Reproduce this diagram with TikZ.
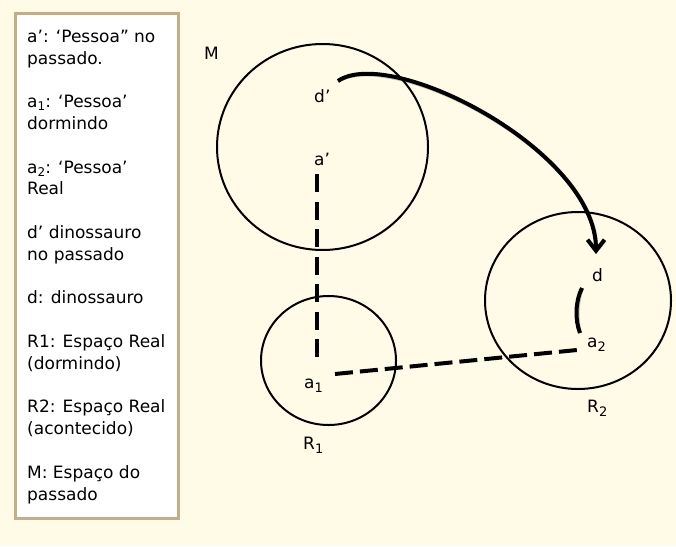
\documentclass[tikz,border=0pt]{standalone}
\usepackage{fontspec}
\setmainfont{DejaVu Sans}
\usetikzlibrary{shapes.geometric,arrows.meta}
\definecolor{bgcol}{RGB}{255,251,231}
\definecolor{boxline}{RGB}{196,174,136}
\newcommand\lgsub[1]{\raisebox{-3pt}{\fontsize{12}{12}\selectfont #1}}
\newcommand\lbsub[1]{\raisebox{-4.5pt}{\fontsize{13}{13}\selectfont #1}}
\tikzset{
  region/.style={draw=black, line width=2pt, ellipse, inner sep=0pt, outer sep=0pt},
  lbl/.style={anchor=base west, inner sep=0pt, font=\fontsize{17}{20}\selectfont},
  dashline/.style={line width=4pt},
  bigarrow/.style={line width=4pt, -{Straight Barb[length=11pt,width=17pt]}},
  shadowline/.style={line width=4pt, black, opacity=0.22}
}
\begin{document}
\begin{tikzpicture}[x=1pt,y=-1pt]
\fill[bgcol] (0,0) rectangle (676,546);
\useasboundingbox (0,0) rectangle (676,546);
% legend box
\draw[boxline, line width=3pt, fill=white] (15,13) rectangle (178,518);
\node[anchor=base west, inner sep=0pt, align=left,
      font=\fontsize{17}{21.8}\selectfont] (legend) at (27,500)
 {a’: ‘Pessoa” no\\passado.\\[21.8pt]
  a\lgsub{1}: ‘Pessoa’\\dormindo\\[21.8pt]
  a\lgsub{2}: ‘Pessoa’\\Real\\[21.8pt]
  d’ dinossauro\\no passado\\[21.8pt]
  d: dinossauro\\[21.8pt]
  R1: Espaço Real\\(dormindo)\\[21.8pt]
  R2: Espaço Real\\(acontecido)\\[21.8pt]
  M: Espaço do\\passado};
% regions
\node[region, minimum width=211pt, minimum height=206pt] (M) at (322.5,147) {};
\node[region, minimum width=135pt, minimum height=129pt] (R1) at (328.5,360.5) {};
\node[region, minimum width=186pt, minimum height=177pt] (R2) at (578,300.5) {};
% labels
\node[lbl] (Mlbl) at (204,59) {M};
\node[lbl] (dp) at (314,102) {d’};
\node[lbl] (ap) at (314,165) {a’};
\node[lbl] (a1) at (304,388) {a\lbsub{1}};
\node[lbl] (R1lbl) at (303,449) {R\lbsub{1}};
\node[lbl] (d) at (592,281) {d};
\node[lbl] (a2) at (587,347) {a\lbsub{2}};
\node[lbl] (R2lbl) at (587,412) {R\lbsub{2}};
% connector end points
\coordinate (apS) at (317,174);
\coordinate (a1N) at (317,357);
\coordinate (a1E) at (335,374);
\coordinate (a2W) at (577,350);
\coordinate (dpE) at (338,81);
\coordinate (dN) at (596,254);
\coordinate (dS) at (582,288);
\coordinate (a2N) at (580,333);
% dashed connectors
\draw[dashline, dash pattern=on 18pt off 9.5pt] (apS) -- (a1N);
\draw[dashline, dash pattern=on 18pt off 7pt] (a1E) -- (a2W);
% arc d -- a2
\draw[shadowline, shift={(1.5,1.5)}] (dS) .. controls (575,302) and (575,320) .. (a2N);
\draw[line width=4pt] (dS) .. controls (575,302) and (575,320) .. (a2N);
% curved arrow d' -> d
\draw[shadowline, shift={(2,2)}, -{Straight Barb[length=11pt,width=17pt]}] (dpE) .. controls (390,45) and (596,150) .. (dN);
\draw[bigarrow] (dpE) .. controls (390,45) and (596,150) .. (dN);
\end{tikzpicture}
\end{document}
